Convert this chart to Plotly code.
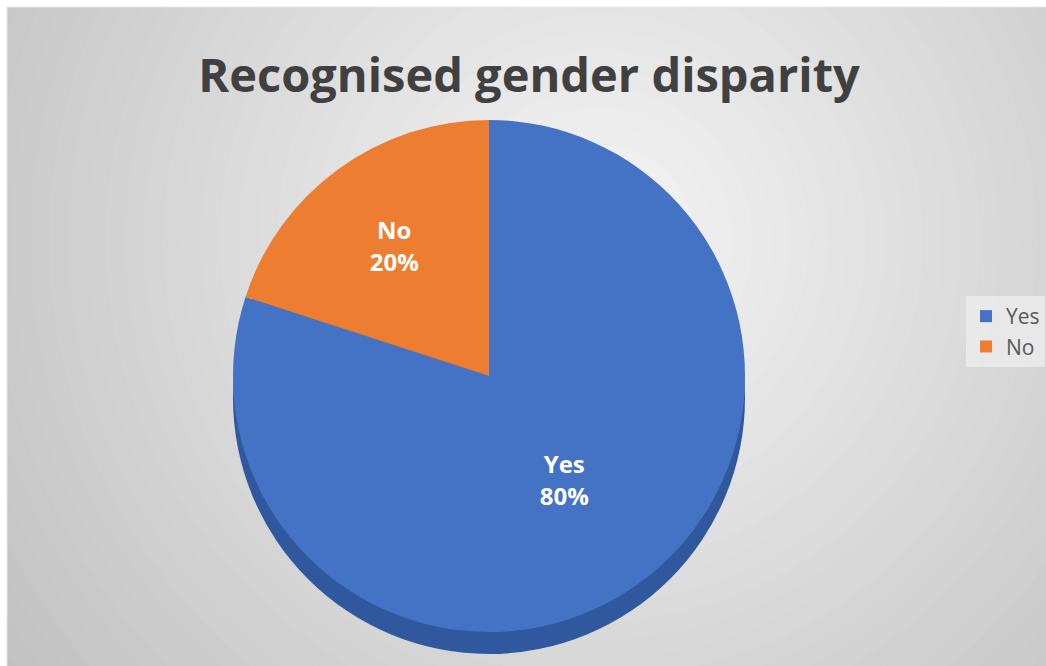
import plotly.graph_objects as go
import numpy as np

labels = ["Yes", "No"]
values = [80, 20]
colors = ["#4472C4", "#ED7D31"]
title_text = "Recognised gender disparity"

W, H = 1046, 666

def px(x):
    return x / W

def py(y):
    return 1 - y / H

shapes = []
# base frame background
shapes.append(dict(type="rect", xref="paper", yref="paper", x0=px(7), x1=1, y0=0, y1=py(7),
                   fillcolor="#c4c4c4", line=dict(width=0), layer="below"))
# radial gradient approximation
cx, cy = 600, 240
outer, inner = np.array([0xc0, 0xc0, 0xc0]), np.array([0xf4, 0xf4, 0xf4])
n = 40
rmax = 760
for i in range(n):
    r = rmax * (1 - i / n)
    t = i / (n - 1)
    c = outer + (inner - outer) * t
    col = "rgb(%d,%d,%d)" % tuple(c.round().astype(int))
    shapes.append(dict(type="circle", xref="paper", yref="paper",
                       x0=px(cx - r), x1=px(cx + r), y0=py(cy + r), y1=py(cy - r),
                       fillcolor=col, line=dict(width=0), layer="below"))
# white margins outside the frame
shapes.append(dict(type="rect", xref="paper", yref="paper", x0=-0.5, x1=px(7), y0=-0.5, y1=1.5,
                   fillcolor="white", line=dict(width=0), layer="below"))
shapes.append(dict(type="rect", xref="paper", yref="paper", x0=-0.5, x1=1.5, y0=py(7), y1=1.5,
                   fillcolor="white", line=dict(width=0), layer="below"))
shapes.append(dict(type="rect", xref="paper", yref="paper", x0=px(7), x1=1.2, y0=-0.2, y1=py(7),
                   fillcolor="rgba(0,0,0,0)", line=dict(width=1, color="#e6e6e6"), layer="below"))

# pie geometry (pixels)
pcx, pcy, pr, depth = 489, 376, 256, 22
# depth (side) of the 3D-looking pie
shapes.append(dict(type="circle", xref="paper", yref="paper",
                   x0=px(pcx - pr), x1=px(pcx + pr), y0=py(pcy + pr + depth), y1=py(pcy - pr + depth),
                   fillcolor="#30589f", line=dict(width=0), layer="below"))

fig = go.Figure(go.Pie(
    labels=labels,
    values=values,
    marker=dict(colors=colors, line=dict(width=0)),
    sort=False,
    direction="clockwise",
    rotation=0,
    textinfo="label+percent",
    texttemplate="<b>%{label}</b><br><b>%{percent:.0%}</b>",
    textposition="inside",
    insidetextorientation="horizontal",
    insidetextfont=dict(family="Open Sans", size=24, color="white"),
    domain=dict(x=[px(pcx - pr), px(pcx + pr)], y=[py(pcy + pr), py(pcy - pr)]),
    hoverinfo="label+percent",
))

fig.update_layout(
    width=W, height=H,
    margin=dict(l=0, r=0, t=0, b=0),
    paper_bgcolor="white",
    shapes=shapes,
    title=dict(text="<b>" + title_text + "</b>", x=px(529), xanchor="center",
               y=py(76), yanchor="middle",
               font=dict(family="Open Sans", size=47, color="#404040")),
    legend=dict(x=px(966), xanchor="left", y=py(296), yanchor="top",
                font=dict(family="Open Sans", size=21, color="#595959"),
                bgcolor="rgba(238,238,238,0.75)", traceorder="normal"),
    showlegend=True,
)

fig.write_html("out.html")
